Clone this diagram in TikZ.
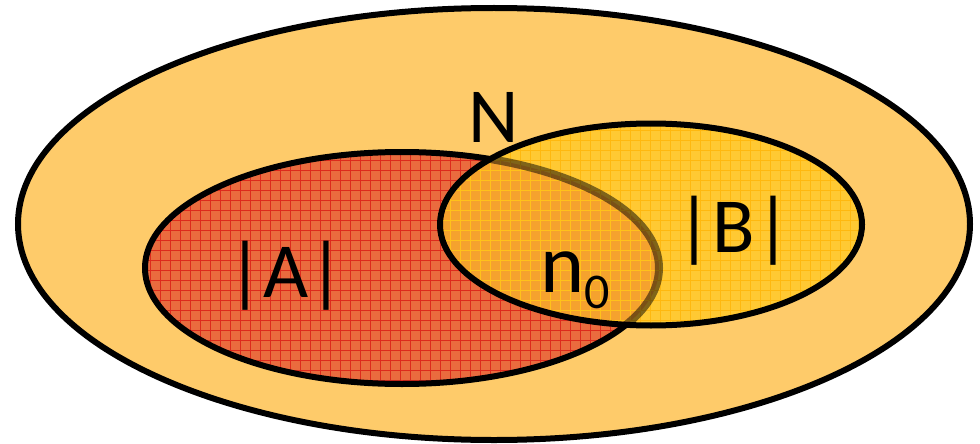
\documentclass[tikz,border=0pt]{standalone}
\usepackage{fontspec}
\setmainfont{Carlito}
\usetikzlibrary{positioning}
\definecolor{outerset}{HTML}{FECB6A}
\definecolor{setA}{HTML}{EA6B3E}
\definecolor{gridA}{HTML}{DD2A1C}
\definecolor{setB}{HTML}{FFC933}
\definecolor{gridB}{HTML}{FFB80F}
\definecolor{meet}{HTML}{F5A22E}
\definecolor{gridmeet}{HTML}{FFC21A}

\begin{document}
\begin{tikzpicture}[
  x=1pt,y=-1pt,
  every node/.style={font=\fontsize{78}{80}\selectfont,anchor=base,inner sep=0pt},
  outline/.style={draw=black,line width=6pt},
  mesh/.style={line width=0.7pt}
]
\useasboundingbox (0,0) rectangle (980,444);
% sets
\def\outerpath{(494,224) ellipse [x radius=476,y radius=216]}
\def\Apath{(402,268) ellipse [x radius=257,y radius=116]}
\def\Bpath{(651,224.5) ellipse [x radius=211,y radius=101]}
\fill[outerset] \outerpath;
\draw[outline] \outerpath;
% set A with red grid
\fill[setA] \Apath;
\begin{scope}
  \clip \Apath;
  \draw[mesh,gridA] (140,150) grid[step=10pt] (670,390);
\end{scope}
\draw[outline] \Apath;
% set B with faint grid
\fill[setB] \Bpath;
\begin{scope}
  \clip \Bpath;
  \draw[mesh,gridB] (430,120) grid[step=10pt] (870,330);
\end{scope}
% intersection
\begin{scope}
  \clip \Bpath;
  \fill[meet] \Apath;
  \clip \Apath;
  \draw[mesh,gridmeet] (430,120) grid[step=10pt] (670,390);
\end{scope}
\begin{scope}
  \clip \Bpath;
  \draw[line width=8pt,black,opacity=0.5] \Apath;
\end{scope}
\draw[outline] \Bpath;
% labels
\node (labelN) at (494,142) {N};
\node (labelA) at (286,297) {|A|};
\node (labelB) at (734,252) {|B|};
\node[anchor=base west,font=\fontsize{84}{86}\selectfont] (labelNzero) at (540,292) {n\raisebox{-0.2em}{\fontsize{50}{52}\selectfont 0}};
\end{tikzpicture}
\end{document}
